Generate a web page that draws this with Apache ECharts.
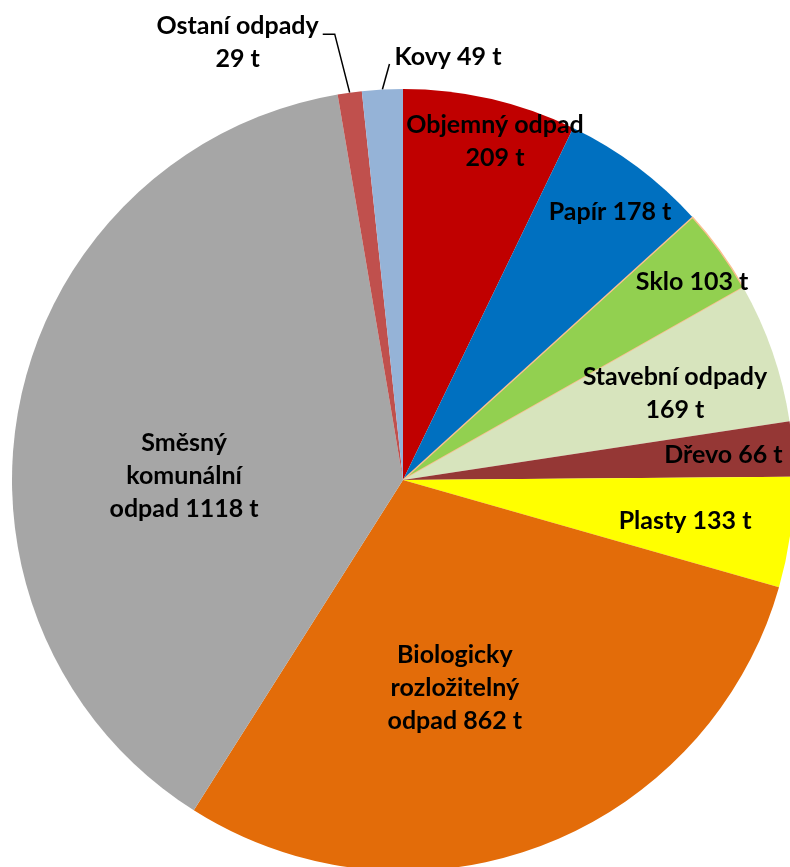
<!DOCTYPE html>
<html>
<head>
<meta charset="utf-8">
<script src="https://cdn.jsdelivr.net/npm/echarts@6/dist/echarts.min.js"></script>
<style>html,body{margin:0;padding:0;background:#fff}#c{width:790px;height:867px}</style>
</head>
<body>
<div id="c"></div>
<script>
// ---- data ----
const categories = ["Objemný odpad", "Papír", "Sklo", "Stavební odpady", "Dřevo", "Plasty",
  "Biologicky rozložitelný odpad", "Směsný komunální odpad", "Ostaní odpady", "Kovy"];
const values = [209, 178, 103, 169, 66, 133, 862, 1118, 29, 49];
const labelTexts = ["Objemný odpad\n{v} t", "Papír {v} t", "Sklo {v} t", "Stavební odpady\n{v} t",
  "Dřevo {v} t", "Plasty {v} t", "Biologicky\nrozložitelný\nodpad {v} t", "Směsný\nkomunální\nodpad {v} t",
  "Ostaní odpady\n{v} t", "Kovy {v} t"];
const unit = "t";

// ---- style ----
const colors = ["#C00000", "#0070C0", "#92D050", "#D7E4BD", "#953735", "#FFFF00",
  "#E36C09", "#A6A6A6", "#C0504D", "#95B3D7"];
const CX = 403, CY = 480, R = 391;
// label placement (angle clockwise from top in degrees, radius fraction)
const labelPolar = [[15.2, 0.898], [37.7, 0.866], [55.6, 0.896], [72.3, 0.730], [85.5, 0.822],
  [98.3, 0.729], [166.0, 0.548], [271.05, 0.560], [339.3, 1.197], [6.07, 1.088]];
const outside = [false, false, false, false, false, false, false, false, true, true];

const total = values.reduce((a, b) => a + b, 0);
function midAngle(i) {
  let s = 0; for (let k = 0; k < i; k++) s += values[k];
  return (s + values[i] / 2) / total * 360;
}
function polar(a, r) {
  const t = a * Math.PI / 180;
  return [CX + r * Math.sin(t), CY - r * Math.cos(t)];
}

const FONT = 'Lato';
const FS = 25;

const chart = echarts.init(document.getElementById('c'), null, {renderer: 'canvas'});
chart.setOption({
  animation: false,
  backgroundColor: '#ffffff',
  series: [{
    type: 'pie',
    center: [CX, CY],
    radius: R,
    startAngle: 90,
    clockwise: true,
    avoidLabelOverlap: false,
    data: categories.map((n, i) => ({
      name: n,
      value: values[i],
      itemStyle: {
        color: colors[i],
        borderColor: i === 2 ? '#FAC090' : colors[i],
        borderWidth: i === 2 ? 1.5 : 0
      },
      label: {
        show: true,
        position: outside[i] ? 'outside' : 'inside',
        formatter: labelTexts[i].replace('{v}', values[i])
      },
      labelLine: {show: outside[i], length: 20, length2: 10,
        lineStyle: {color: '#000', width: 1.5}}
    })),
    label: {
      color: '#000',
      fontFamily: FONT,
      fontWeight: 'bold',
      fontSize: FS,
      lineHeight: 33,
      align: 'center'
    },
    emphasis: {disabled: true},
    labelLayout: function (p) {
      const i = p.dataIndex;
      const pos = polar(labelPolar[i][0], labelPolar[i][1] * R);
      const res = {x: pos[0], y: pos[1], align: 'center', verticalAlign: 'middle'};
      if (outside[i]) {
        const a = polar(midAngle(i), R);
        const rect = p.labelRect;
        if (i === 9) {
          const lx = pos[0] - rect.width / 2;
          res.labelLinePoints = [a, [lx - 5, pos[1] + 7], [lx - 5, pos[1] + 7]];
        } else {
          const rx = pos[0] + rect.width / 2;
          const ly = pos[1] - 8;
          res.labelLinePoints = [a, [rx + 16, ly], [rx + 4, ly]];
        }
      }
      return res;
    }
  }]
});
</script>
</body>
</html>
